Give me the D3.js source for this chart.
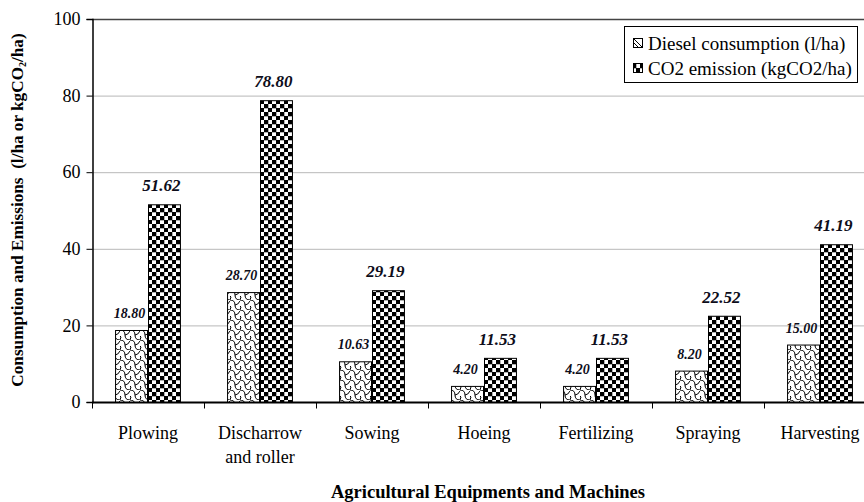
<!DOCTYPE html>
<html><head><meta charset="utf-8">
<script src="https://cdn.jsdelivr.net/npm/d3@7"></script>
<style>body{margin:0;background:#fff}svg{display:block}svg text{font-family:"Liberation Serif","Times New Roman",serif !important}</style>
</head><body>
<svg id="c" width="864" height="502" font-family="Liberation Serif"></svg>
<script>
const categories = [["Plowing"],["Discharrow","and roller"],["Sowing"],["Hoeing"],["Fertilizing"],["Spraying"],["Harvesting"]];
const dieselValues = [18.80, 28.70, 10.63, 4.20, 4.20, 8.20, 15.00];
const co2Values = [51.62, 78.80, 29.19, 11.53, 11.53, 22.52, 41.19];
const seriesNames = ["Diesel consumption (l/ha)", "CO2 emission (kgCO2/ha)"];
const yTicks = [0, 20, 40, 60, 80, 100];

const FONT = "Liberation Serif";
const svg = d3.select("#c");
const defs = svg.append("defs");
// checker pattern
const pc = defs.append("pattern").attr("id","checker").attr("patternUnits","userSpaceOnUse").attr("width",8).attr("height",8);
pc.append("rect").attr("width",8).attr("height",8).attr("fill","#fff");
pc.append("rect").attr("x",0).attr("y",0).attr("width",4.3).attr("height",4.3).attr("fill","#000");
pc.append("rect").attr("x",4).attr("y",4).attr("width",4.3).attr("height",4.3).attr("fill","#000");
// wavy scale pattern
const pw = defs.append("pattern").attr("id","wave").attr("patternUnits","userSpaceOnUse").attr("width",10).attr("height",10);
pw.append("rect").attr("width",10).attr("height",10).attr("fill","#fff");
pw.append("path").attr("d","M0,0 Q5,0 5,5 Q5,10 10,10 M5,5 Q8,5 10,1 M0,6 Q2,6 0,10")
  .attr("fill","none").attr("stroke","#000").attr("stroke-width",1);

const left = 92, y0 = 402, yTop = 19;
const x = d3.scaleBand().domain(d3.range(categories.length)).range([left, left + 112*7]).padding(0);
const xs = d3.scaleBand().domain([0,1]).range([0, x.bandwidth()]).paddingInner(0).paddingOuter(0.7);
const y = d3.scaleLinear().domain([0,100]).range([y0, yTop]);

// gridlines
svg.append("g").selectAll("line").data(yTicks.filter(t=>t>0)).join("line")
  .attr("x1", left).attr("x2", 864).attr("y1", d=>y(d)+0.5).attr("y2", d=>y(d)+0.5)
  .attr("stroke", d=> d===100 ? "#444" : "#b8b8b8").attr("stroke-width", d=> d===100?1.5:1);

// bars
const g = svg.append("g");
categories.forEach((c,i)=>{
  const vals = [dieselValues[i], co2Values[i]];
  vals.forEach((v,k)=>{
    g.append("rect").attr("x", x(i)+xs(k)+0.5).attr("y", y(v)+0.5)
     .attr("width", xs.bandwidth()-1).attr("height", y0 - y(v))
     .attr("fill", k===0 ? "url(#wave)" : "url(#checker)")
     .attr("stroke","#000").attr("stroke-width",1);
  });
  g.append("text").attr("x", x(i)+xs(0)+xs.bandwidth()/2-2).attr("y", y(vals[0])-12)
   .attr("text-anchor","middle").attr("font-family",FONT).attr("font-size",14).attr("font-weight","bold").attr("font-style","italic")
   .attr("fill","#0d0d1a").text(vals[0].toFixed(2));
  g.append("text").attr("x", x(i)+xs(1)+xs.bandwidth()/2-3).attr("y", y(vals[1])-13)
   .attr("text-anchor","middle").attr("font-family",FONT).attr("font-size",17).attr("font-weight","bold").attr("font-style","italic")
   .attr("fill","#0d0d1a").text(vals[1].toFixed(2));
});

// y axis
const ya = svg.append("g").attr("transform",`translate(${left+0.5},0)`)
  .call(d3.axisLeft(y).tickValues(yTicks).tickSize(6).tickPadding(6));
ya.attr("font-family",FONT);
ya.select(".domain").attr("stroke","#000").attr("stroke-width",1.5);
ya.selectAll("text").attr("font-size",18).attr("fill","#000").attr("font-family",FONT);
ya.selectAll("line").attr("stroke","#000");

// x axis
const xa = svg.append("g").attr("transform",`translate(0,${y0+0.5})`);
xa.append("line").attr("x1",left).attr("x2",864).attr("y1",0).attr("y2",0).attr("stroke","#000").attr("stroke-width",2);
xa.selectAll("line.t").data(d3.range(categories.length)).join("line").attr("class","t")
  .attr("x1",d=>x(d)+0.5).attr("x2",d=>x(d)+0.5).attr("y1",0).attr("y2",6).attr("stroke","#000");
const xl = xa.selectAll("text").data(categories).join("text")
  .attr("text-anchor","middle").attr("font-family",FONT).attr("font-size",18).attr("fill","#000")
  .attr("transform",(d,i)=>`translate(${x(i)+x.bandwidth()/2},36)`);
xl.each(function(lines){
  d3.select(this).selectAll("tspan").data(lines).join("tspan")
    .attr("x",0).attr("dy",(d,j)=> j===0?0:"1.35em").text(d=>d);
});

// titles
svg.append("text").attr("transform","translate(23,210) rotate(-90)").attr("text-anchor","middle")
  .attr("font-family",FONT).attr("font-size",17.2).attr("font-weight","bold").attr("fill","#000")
  .html('Consumption and Emissions&#160;&#160;(l/ha or kgCO<tspan font-size="10" dy="3">2</tspan><tspan dy="-3">/ha)</tspan>');
svg.append("text").attr("x",488).attr("y",498).attr("text-anchor","middle")
  .attr("font-family",FONT).attr("font-size",18.5).attr("font-weight","bold").attr("fill","#000").text("Agricultural Equipments and Machines");

// legend
const lg = svg.append("g");
lg.append("rect").attr("x",624.5).attr("y",26.5).attr("width",233).attr("height",56)
  .attr("fill","#fff").attr("stroke","#000").attr("stroke-width",1);
seriesNames.forEach((s,k)=>{
  const ly = 44 + k*25;
  lg.append("rect").attr("x",633.5).attr("y",ly-5.5).attr("width",9).attr("height",9)
    .attr("fill", k===0?"#fff":"url(#checker)").attr("stroke","#000");
  if(k===0){
    lg.append("line").attr("x1",634).attr("y1",ly-5).attr("x2",642).attr("y2",ly+3).attr("stroke","#000");
    lg.append("line").attr("x1",634).attr("y1",ly-1).attr("x2",638).attr("y2",ly+3).attr("stroke","#000");
  }
  lg.append("text").attr("x",648).attr("y",ly+6).attr("font-family",FONT).attr("font-size",19).attr("fill","#000").text(s);
});
</script>
</body></html>
